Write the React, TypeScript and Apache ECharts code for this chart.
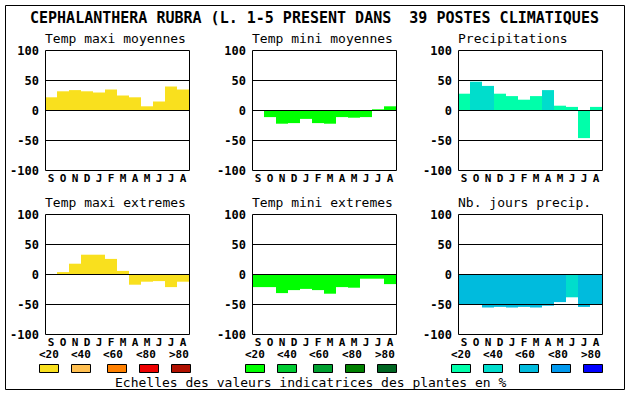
import React, { useEffect, useRef } from "react";
import * as echarts from "echarts";

const MONTHS = ["S", "O", "N", "D", "J", "F", "M", "A", "M", "J", "J", "A"];
const Y_TICKS = [-100, -50, 0, 50, 100];

const TITLE = "CEPHALANTHERA RUBRA (L. 1-5 PRESENT DANS  39 POSTES CLIMATIQUES";
const FOOTER = "Echelles des valeurs indicatrices des plantes en %";
const LEGEND_LABELS = ["<20", "<40", "<60", "<80", ">80"];

const PANEL_TITLES = [
  "Temp maxi moyennes",
  "Temp mini moyennes",
  "Precipitations",
  "Temp maxi extremes",
  "Temp mini extremes",
  "Nb. jours precip.",
];

const tmaxMoy = [22, 32, 34, 32, 30, 35, 25, 22, 7, 15, 40, 35];
const tminMoy = [0, -11, -22, -21, -14, -21, -22, -11, -12, -11, 2, 7];
const precip = [28, 48, 41, 28, 24, 18, 24, 34, 8, 6, -46, 6];
const tmaxExt = [0, 4, 18, 33, 33, 26, 6, -17, -12, -11, -21, -12];
const tminExt = [-21, -21, -31, -26, -24, -26, -32, -21, -22, -7, -7, -16];
const nbJours = [-50, -50, -55, -54, -55, -54, -55, -52, -46, -38, -54, -50];

const tmaxMoyClass = [0, 0, 0, 0, 0, 0, 0, 0, 0, 0, 0, 0];
const tminMoyClass = [0, 0, 0, 0, 0, 0, 0, 0, 0, 0, 0, 0];
const precipClass = [0, 1, 1, 0, 0, 0, 0, 1, 0, 0, 0, 0];
const tmaxExtClass = [0, 0, 0, 0, 0, 0, 0, 0, 0, 0, 0, 0];
const tminExtClass = [0, 0, 0, 0, 0, 0, 0, 0, 0, 0, 0, 0];
const nbJoursClass = [2, 2, 2, 2, 2, 2, 2, 2, 2, 1, 2, 2];

const YELLOWS = ["#f9e01e", "#ffbf50", "#ff8000", "#ee0000", "#b01000"];
const GREENS = ["#00ff00", "#00cc33", "#00a030", "#008000", "#006622"];
const BLUES = ["#00ffaa", "#00ddcc", "#00bbdd", "#0099ee", "#0000ff"];

const FONT = "'DejaVu Sans Mono', monospace";

// layout
const PANEL_LEFT = [45, 252, 458];
const ROW_TOP = [50.5, 214.5];
const PLOT_W = 144;
const PLOT_H = 120;
const LEGEND_X = [39, 245, 451];
const BOX_OFF = [0, 32, 68, 100, 132];
const LABEL_OFF = [0, 32, 64, 97, 130];

export default function App() {
  const ref = useRef<HTMLDivElement>(null);

  useEffect(() => {
    if (!ref.current) return;
    const chart = echarts.init(ref.current, undefined, { renderer: "svg" });

    const panels = [
      { values: tmaxMoy, cls: tmaxMoyClass, pal: YELLOWS },
      { values: tminMoy, cls: tminMoyClass, pal: GREENS },
      { values: precip, cls: precipClass, pal: BLUES },
      { values: tmaxExt, cls: tmaxExtClass, pal: YELLOWS },
      { values: tminExt, cls: tminExtClass, pal: GREENS },
      { values: nbJours, cls: nbJoursClass, pal: BLUES },
    ];

    const grids: any[] = [];
    const xAxes: any[] = [];
    const yAxes: any[] = [];
    const series: any[] = [];
    const graphics: any[] = [];

    panels.forEach((p, i) => {
      const col = i % 3;
      const row = Math.floor(i / 3);
      const left = PANEL_LEFT[col];
      const top = ROW_TOP[row];
      grids.push({ left, top, width: PLOT_W, height: PLOT_H, containLabel: false });
      xAxes.push({
        type: "category",
        gridIndex: i,
        data: MONTHS,
        axisLine: { show: false },
        axisTick: { show: false },
        splitLine: { show: false },
        axisLabel: {
          interval: 0,
          color: "#000",
          fontFamily: FONT,
          fontWeight: "bold",
          fontSize: 11,
          margin: 2,
        },
      });
      yAxes.push({
        type: "value",
        gridIndex: i,
        min: -100,
        max: 100,
        interval: 50,
        axisLine: { show: false },
        axisTick: { show: false },
        splitLine: { show: false },
        axisLabel: {
          color: "#000",
          fontFamily: FONT,
          fontWeight: "bold",
          fontSize: 12,
          margin: 6,
        },
      });
      series.push({
        type: "bar",
        xAxisIndex: i,
        yAxisIndex: i,
        barCategoryGap: "0%",
        data: p.values.map((v, k) => ({ value: v, itemStyle: { color: p.pal[p.cls[k]] } })),
        markLine: {
          silent: true,
          symbol: "none",
          label: { show: false },
          lineStyle: { color: "#000", type: "solid", width: 1 },
          data: Y_TICKS.filter((t) => t > -100 && t < 100).map((t) => ({ yAxis: t })),
        },
      });
      graphics.push({
        type: "rect",
        z: 100,
        shape: { x: left + 0.5, y: top, width: PLOT_W, height: PLOT_H },
        style: { fill: "none", stroke: "#000", lineWidth: 1 },
      });
      graphics.push({
        type: "text",
        z: 100,
        x: left,
        y: row === 0 ? 38.6 : 202.6,
        style: {
          text: PANEL_TITLES[i],
          font: `13px ${FONT}`,
          fill: "#000",
          verticalAlign: "middle",
          align: "left",
        },
      });
    });

    // outer frame
    graphics.push({
      type: "rect",
      z: 100,
      shape: { x: 5.5, y: 5.5, width: 619, height: 384 },
      style: { fill: "none", stroke: "#000", lineWidth: 1 },
    });
    graphics.push({
      type: "text",
      z: 100,
      x: 30,
      y: 17.5,
      style: { text: TITLE, font: `bold 15px ${FONT}`, fill: "#000", verticalAlign: "middle" },
    });
    graphics.push({
      type: "text",
      z: 100,
      x: 115,
      y: 382,
      style: { text: FOOTER, font: `13px ${FONT}`, fill: "#000", verticalAlign: "middle" },
    });

    [YELLOWS, GREENS, BLUES].forEach((pal, g) => {
      pal.forEach((c, k) => {
        graphics.push({
          type: "rect",
          z: 100,
          shape: { x: LEGEND_X[g] + BOX_OFF[k] + 0.5, y: 364.5, width: 19, height: 8 },
          style: { fill: c, stroke: "#000", lineWidth: 1 },
        });
        graphics.push({
          type: "text",
          z: 100,
          x: LEGEND_X[g] + LABEL_OFF[k],
          y: 354,
          style: {
            text: LEGEND_LABELS[k],
            font: `bold 11px ${FONT}`,
            fill: "#000",
            verticalAlign: "middle",
          },
        });
      });
    });

    chart.setOption({
      animation: false,
      backgroundColor: "#fff",
      grid: grids,
      xAxis: xAxes,
      yAxis: yAxes,
      series,
      graphic: { elements: graphics },
    });

    return () => chart.dispose();
  }, []);

  return (
    <div
      ref={ref}
      style={{ position: "absolute", left: 0, top: 0, width: 630, height: 394 }}
    />
  );
}
